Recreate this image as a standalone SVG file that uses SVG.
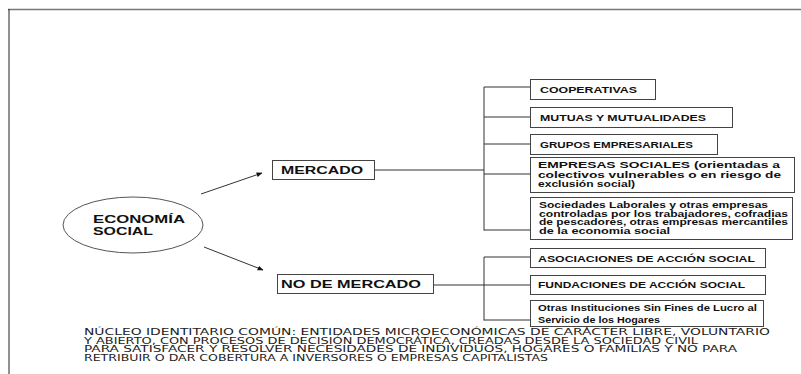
<svg xmlns="http://www.w3.org/2000/svg" width="801" height="374" viewBox="0 0 801 374">
<defs>
<style>
.box{fill:#fff;stroke:#444;stroke-width:1}
.ln{fill:none;stroke:#333;stroke-width:1}
.b9{font-family:"Liberation Sans",Arial,sans-serif;font-weight:bold;font-size:8.5px;fill:#111}
.b12{font-family:"Liberation Sans",Arial,sans-serif;font-weight:bold;font-size:11.5px;fill:#111}
.reg{font-family:"DejaVu Sans",Verdana,sans-serif;font-size:8px;fill:#222}
</style>
<marker id="ah" viewBox="0 0 10 10" refX="9" refY="5" markerWidth="6" markerHeight="6" orient="auto" markerUnits="userSpaceOnUse">
<path d="M0,1 L10,5 L0,9 z" fill="#111"/>
</marker>
</defs>
<rect width="801" height="374" fill="#fff"/>
<line x1="8" y1="9.5" x2="801" y2="9.5" stroke="#777" stroke-width="1.5"/>
<line x1="9" y1="9" x2="9" y2="374" stroke="#222" stroke-width="1"/>

<g id="connectors">
<line class="ln" x1="201" y1="194" x2="262" y2="173" marker-end="url(#ah)"/>
<line class="ln" x1="204" y1="247" x2="263" y2="270" marker-end="url(#ah)"/>
<line class="ln" x1="375" y1="170" x2="484" y2="170"/>
<line class="ln" x1="484" y1="87" x2="484" y2="230.5"/>
<line class="ln" x1="484" y1="87" x2="530" y2="87"/>
<line class="ln" x1="484" y1="117" x2="530" y2="117" stroke="#888"/>
<line class="ln" x1="484" y1="144" x2="530" y2="144"/>
<line class="ln" x1="484" y1="174" x2="530" y2="174"/>
<line class="ln" x1="484" y1="230" x2="530" y2="230"/>
<line class="ln" x1="434" y1="285" x2="530" y2="285"/>
<line class="ln" x1="484" y1="257" x2="484" y2="320.5"/>
<line class="ln" x1="484" y1="257" x2="530" y2="257"/>
<line class="ln" x1="484" y1="320" x2="530" y2="320"/>
</g>

<g id="economia-social">
<ellipse cx="133" cy="225" rx="70" ry="28" fill="#fff" stroke="#555" stroke-width="1"/>
<text class="b12" x="93" y="222.5" textLength="92" lengthAdjust="spacingAndGlyphs" style="font-size:10.5px">ECONOMÍA</text>
<text class="b12" x="93" y="235" textLength="60" lengthAdjust="spacingAndGlyphs" style="font-size:10.5px">SOCIAL</text>
</g>

<g id="mercado">
<rect class="box" x="272.5" y="160.5" width="102" height="19"/>
<text class="b12" x="281" y="173.5" textLength="82" lengthAdjust="spacingAndGlyphs">MERCADO</text>
</g>

<g id="no-de-mercado">
<rect class="box" x="277.5" y="274.5" width="156" height="19"/>
<text class="b12" x="281" y="288" textLength="140" lengthAdjust="spacingAndGlyphs">NO DE MERCADO</text>
</g>

<g id="cooperativas">
<rect class="box" x="530.5" y="79.5" width="125" height="20"/>
<text class="b9" x="540" y="92.5" textLength="97" lengthAdjust="spacingAndGlyphs">COOPERATIVAS</text>
</g>

<g id="mutuas">
<rect class="box" x="530.5" y="107.5" width="202" height="20"/>
<text class="b9" x="540" y="120.5" textLength="166" lengthAdjust="spacingAndGlyphs">MUTUAS Y MUTUALIDADES</text>
</g>

<g id="grupos">
<rect class="box" x="530.5" y="134.5" width="187" height="20"/>
<text class="b9" x="540" y="147.5" textLength="153" lengthAdjust="spacingAndGlyphs">GRUPOS EMPRESARIALES</text>
</g>

<g id="empresas-sociales">
<rect class="box" x="530.5" y="157.5" width="264" height="35"/>
<text class="b9" x="538" y="168" textLength="242" lengthAdjust="spacingAndGlyphs">EMPRESAS SOCIALES (orientadas a</text>
<text class="b9" x="538" y="177.5" textLength="243" lengthAdjust="spacingAndGlyphs">colectivos vulnerables o en riesgo de</text>
<text class="b9" x="538" y="187" textLength="97" lengthAdjust="spacingAndGlyphs">exclusión social)</text>
</g>

<g id="sociedades-laborales">
<rect class="box" x="530.5" y="197.5" width="262" height="42"/>
<text class="b9" x="539" y="208" textLength="229" lengthAdjust="spacingAndGlyphs">Sociedades Laborales y otras empresas</text>
<text class="b9" x="539" y="216.5" textLength="249" lengthAdjust="spacingAndGlyphs">controladas por los trabajadores, cofradias</text>
<text class="b9" x="539" y="225" textLength="249" lengthAdjust="spacingAndGlyphs">de pescadores, otras empresas mercantiles</text>
<text class="b9" x="539" y="233.5" textLength="131" lengthAdjust="spacingAndGlyphs">de la economia social</text>
</g>

<g id="asociaciones">
<rect class="box" x="530.5" y="248.5" width="235" height="19"/>
<text class="b9" x="538" y="261.5" textLength="217" lengthAdjust="spacingAndGlyphs">ASOCIACIONES DE ACCIÓN SOCIAL</text>
</g>

<g id="fundaciones">
<rect class="box" x="530.5" y="275.5" width="235" height="19"/>
<text class="b9" x="538" y="288" textLength="207" lengthAdjust="spacingAndGlyphs">FUNDACIONES DE ACCIÓN SOCIAL</text>
</g>

<g id="otras-instituciones">
<rect class="box" x="530.5" y="300.5" width="233" height="26"/>
<text class="b9" x="538" y="311" textLength="219" lengthAdjust="spacingAndGlyphs">Otras Instituciones Sin Fines de Lucro al</text>
<text class="b9" x="538" y="322.5" textLength="122" lengthAdjust="spacingAndGlyphs">Servicio de los Hogares</text>
</g>

<g id="nucleo-identitario">
<text class="reg" x="84" y="335" textLength="686" lengthAdjust="spacingAndGlyphs">NÚCLEO IDENTITARIO COMÚN: ENTIDADES MICROECONÓMICAS DE CARÁCTER LIBRE, VOLUNTARIO</text>
<text class="reg" x="84" y="343.7" textLength="614" lengthAdjust="spacingAndGlyphs">Y ABIERTO, CON PROCESOS DE DECISIÓN DEMOCRÁTICA, CREADAS DESDE LA SOCIEDAD CIVIL</text>
<text class="reg" x="84" y="352.4" textLength="653" lengthAdjust="spacingAndGlyphs">PARA SATISFACER Y RESOLVER NECESIDADES DE INDIVIDUOS, HOGARES O FAMILIAS Y NO PARA</text>
<text class="reg" x="84" y="361.1" textLength="464" lengthAdjust="spacingAndGlyphs">RETRIBUIR O DAR COBERTURA A INVERSORES O EMPRESAS CAPITALISTAS</text>
</g>
</svg>
